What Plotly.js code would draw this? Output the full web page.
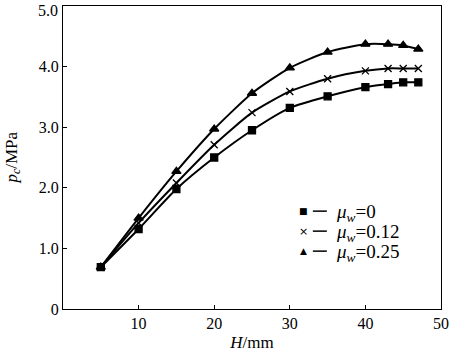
<!DOCTYPE html>
<html>
<head>
<meta charset="utf-8">
<script src="https://cdn.plot.ly/plotly-3.0.1.min.js"></script>
<style>html,body{margin:0;padding:0;background:#fff;}#chart{width:450px;height:357px;}</style>
</head>
<body>
<div id="chart"></div>
<script>
const H = [5, 10, 15, 20, 25, 30, 35, 40, 43, 45, 47];
const pc_mu0 = [0.69, 1.32, 1.98, 2.50, 2.95, 3.32, 3.51, 3.66, 3.71, 3.74, 3.74];
const pc_mu012 = [0.69, 1.42, 2.08, 2.71, 3.24, 3.59, 3.80, 3.93, 3.97, 3.97, 3.97];
const pc_mu025 = [0.69, 1.50, 2.27, 2.97, 3.56, 3.98, 4.24, 4.37, 4.37, 4.35, 4.29];
const seriesNames = ['<i>μ</i><sub><i>w</i></sub>=0', '<i>μ</i><sub><i>w</i></sub>=0.12', '<i>μ</i><sub><i>w</i></sub>=0.25'];
const xTicks = [10, 20, 30, 40, 50];
const yTicks = [0, 1, 2, 3, 4, 5];
const yTickText = ['0', '1.0', '2.0', '3.0', '4.0', '5.0'];
const xTitle = '<i>H</i>/mm';
const yTitle = '<i>p</i><sub><i>c</i></sub>/MPa';

const FONT = 'Liberation Serif, Times New Roman, serif';
const symbols = ['square', 'x-thin', 'triangle-up'];
const sizes = [7, 7, 8];
const series = [pc_mu0, pc_mu012, pc_mu025];

const traces = series.map((ys, i) => ({
  x: H, y: ys, name: seriesNames[i], type: 'scatter', mode: 'lines+markers',
  line: {color: '#000', width: 2, shape: 'spline', smoothing: 0.6},
  marker: {symbol: symbols[i], size: sizes[i], color: '#000', line: {color: '#000', width: 1.3}},
  showlegend: false,
  cliponaxis: false
}));

// manual legend (marker glyph, short dash, label)
const legX = 0.635, legY0 = 0.323, legDy = 0.066;
const glyphs = ['■', '×', '▲'];
const annotations = [];
const shapes = [];
seriesNames.forEach((n, i) => {
  const yy = legY0 - i * legDy;
  annotations.push({xref: 'paper', yref: 'paper', x: legX, y: yy, text: glyphs[i], showarrow: false,
    xanchor: 'center', yanchor: 'middle', font: {family: 'DejaVu Sans', size: i === 1 ? 11 : 9, color: '#000'}});
  shapes.push({type: 'line', xref: 'paper', yref: 'paper', x0: legX + 0.026, x1: legX + 0.063, y0: yy, y1: yy,
    line: {color: '#000', width: 1.5}});
  annotations.push({xref: 'paper', yref: 'paper', x: legX + 0.082, y: yy - 0.006, text: n, showarrow: false,
    xanchor: 'left', yanchor: 'middle', font: {family: FONT, size: 19, color: '#000'}});
});

// top tick label (Plotly hides it at the very edge of the figure)
const topIdx = yTicks.length - 1;
annotations.push({xref: 'paper', yref: 'y', x: 0, y: yTicks[topIdx], text: yTickText[topIdx], showarrow: false,
  xanchor: 'right', yanchor: 'top', xshift: -3, yshift: 6, font: {family: FONT, size: 16, color: '#000'}});
// y axis title
annotations.push({xref: 'paper', yref: 'paper', x: 0, y: 0.5, xshift: -51, text: yTitle, textangle: -90,
  showarrow: false, xanchor: 'center', yanchor: 'middle', font: {family: FONT, size: 17, color: '#000'}});
const yTickTextShown = yTickText.map((t, i) => i === topIdx ? '' : t);

const layout = {
  width: 450, height: 357,
  margin: {l: 63, r: 9, t: 6, b: 48},
  paper_bgcolor: '#fff', plot_bgcolor: '#fff',
  font: {family: FONT, size: 16, color: '#000'},
  xaxis: {
    range: [0, 50], tickvals: xTicks, ticks: 'inside', ticklen: 4, tickwidth: 1, tickcolor: '#000',
    showline: true, linecolor: '#000', linewidth: 1, mirror: true, showgrid: false, zeroline: false,
    title: {text: xTitle, font: {family: FONT, size: 17}, standoff: 4},
    tickfont: {family: FONT, size: 16}
  },
  yaxis: {
    range: [0, 5], tickvals: yTicks, ticktext: yTickTextShown, ticks: 'inside', ticklen: 4, tickwidth: 1, tickcolor: '#000',
    showline: true, linecolor: '#000', linewidth: 1, mirror: true, showgrid: false, zeroline: false,
    tickfont: {family: FONT, size: 16}
  },
  annotations: annotations,
  shapes: shapes,
  showlegend: false
};

Plotly.newPlot('chart', traces, layout, {displayModeBar: false, staticPlot: true});
</script>
</body>
</html>
